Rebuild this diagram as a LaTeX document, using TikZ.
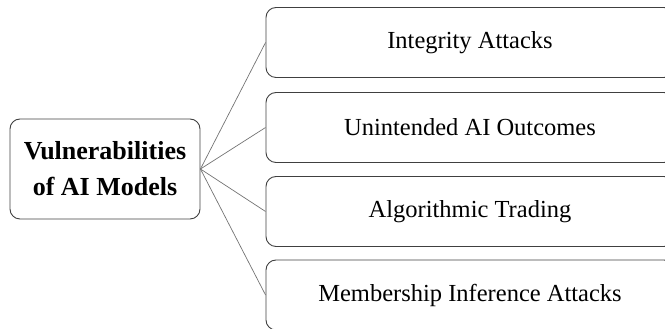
\documentclass[tikz,border=0pt]{standalone}
\usepackage{fontspec}
\setmainfont{Liberation Serif}

\tikzset{
  rootbox/.style={draw=black!75, line width=0.9pt, rounded corners=10pt,
    minimum width=190pt, minimum height=100pt, align=center,
    font=\fontsize{26}{36}\selectfont\bfseries},
  leafbox/.style={draw=black!75, line width=0.9pt, rounded corners=10pt,
    minimum width=408pt, minimum height=70pt,
    font=\fontsize{24.5}{29}\selectfont},
  link/.style={draw=black!55, line width=0.7pt}
}

\begin{document}
\begin{tikzpicture}[x=1pt, y=1pt]
  \useasboundingbox (0,0) rectangle (665,329);

  \node[rootbox] (V) at (105,160) {Vulnerabilities\\of AI Models};

  \node[leafbox] (I) at (470,286.5) {Integrity Attacks};
  \node[leafbox] (U) at (470,201.5) {Unintended AI Outcomes};
  \node[leafbox] (A) at (470,117.5) {Algorithmic Trading};
  \node[leafbox] (M) at (470,34)    {Membership Inference Attacks};

  \foreach \leaf in {I,U,A,M}
    \draw[link] (V.east) -- (\leaf.west);
\end{tikzpicture}
\end{document}
